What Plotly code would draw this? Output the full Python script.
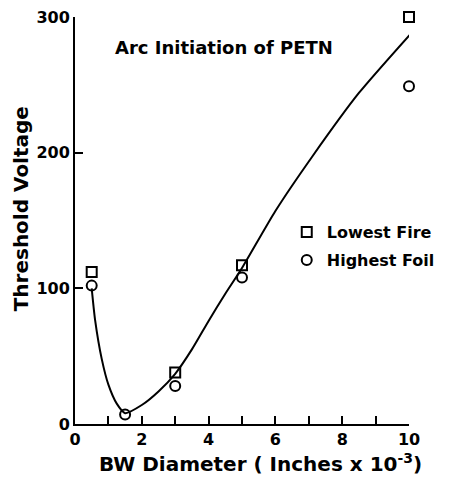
import plotly.graph_objects as go

# Data
diameter = [0.5, 3, 5, 10]
lowest_fire = [112, 38, 117, 300]
foil_diameter = [0.5, 1.5, 3, 5, 10]
highest_foil = [102, 7, 28, 108, 249]
# hand-drawn fit curve
curve_x = [0.5, 0.6, 0.8, 1.0, 1.25, 1.5, 2.0, 2.5, 3.0, 3.5, 4.0, 4.5, 5.0, 6.0, 7.1, 8.5, 10.1]
curve_y = [100, 77, 48, 29, 15, 8, 14, 24, 37, 55, 76, 96, 115, 157, 197, 244, 289]

FONT = "DejaVu Sans"

fig = go.Figure()
fig.add_trace(go.Scatter(x=curve_x, y=curve_y, mode="lines",
                         line=dict(color="black", width=2, shape="spline", smoothing=0.6),
                         showlegend=False, hoverinfo="skip", cliponaxis=False))
fig.add_trace(go.Scatter(x=diameter, y=lowest_fire, mode="markers", name="Lowest Fire",
                         legendgroup="a",
                         marker=dict(symbol="square-open", size=10, color="black",
                                     line=dict(width=2, color="black")),
                         cliponaxis=False))
fig.add_trace(go.Scatter(x=foil_diameter, y=highest_foil, mode="markers", name="Highest Foil",
                         legendgroup="b",
                         marker=dict(symbol="circle-open", size=10, color="black",
                                     line=dict(width=2, color="black")),
                         cliponaxis=False))

fig.add_annotation(text="Arc Initiation of PETN", x=0.113, y=0.925, xref="paper", yref="paper",
                   xanchor="left", yanchor="middle", showarrow=False,
                   font=dict(family=FONT, size=18, color="black", weight="bold"))
fig.add_annotation(text="BW Diameter ( Inches x 10<sup>-3</sup>)", x=0.554, y=-0.096,
                   xref="paper", yref="paper", xanchor="center", yanchor="middle",
                   showarrow=False,
                   font=dict(family=FONT, size=20, color="black", weight="bold"))
fig.add_annotation(text="Threshold Voltage", x=-0.161, y=0.528, textangle=-90,
                   xref="paper", yref="paper", xanchor="center", yanchor="middle",
                   showarrow=False,
                   font=dict(family=FONT, size=20, color="black", weight="bold"))

fig.update_layout(
    width=441, height=473,
    margin=dict(l=67, r=38, t=9, b=57),
    paper_bgcolor="white", plot_bgcolor="white",
    font=dict(family=FONT, color="black", size=16),
    legend=dict(x=0.634, y=0.513, xanchor="left", yanchor="top",
                bgcolor="rgba(0,0,0,0)", itemwidth=30, tracegroupgap=4,
                traceorder="grouped",
                font=dict(family=FONT, size=16, color="black", weight="bold")),
    xaxis=dict(range=[0, 10], tickvals=[0, 2, 4, 6, 8, 10], ticks="inside", ticklen=8,
               tickwidth=2, tickcolor="black", showline=True, linecolor="black", linewidth=2,
               showgrid=False, zeroline=False, automargin=False, ticklabeloverflow="allow",
               minor=dict(ticks="inside", dtick=1, ticklen=8, tickwidth=2, tickcolor="black"),
               tickfont=dict(family=FONT, size=16, color="black", weight="bold")),
    yaxis=dict(range=[0, 300], tickvals=[0, 100, 200, 300], ticks="inside", ticklen=8,
               tickwidth=2, tickcolor="black", showline=True, linecolor="black", linewidth=2,
               showgrid=False, zeroline=False, automargin=False, ticklabeloverflow="allow",
               tickfont=dict(family=FONT, size=16, color="black", weight="bold")),
)

fig.write_html("out.html")
